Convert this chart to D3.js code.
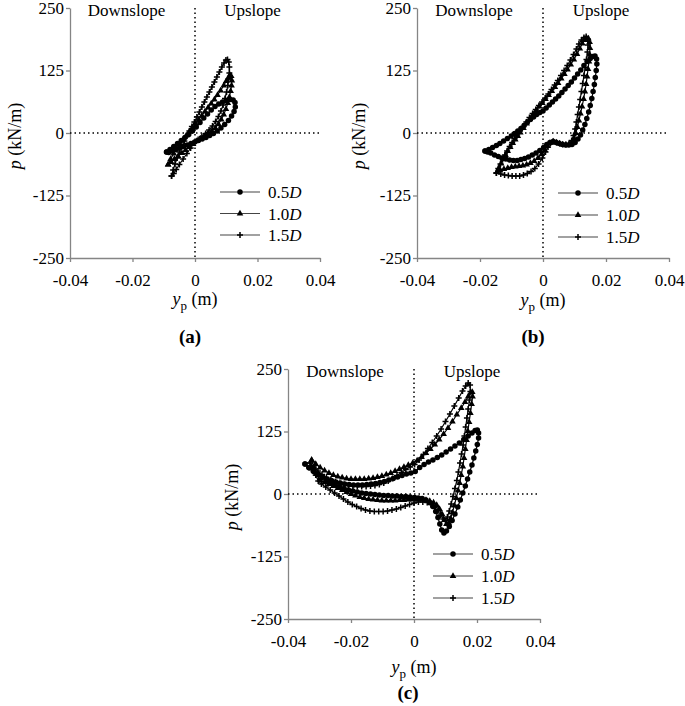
<!DOCTYPE html>
<html><head><meta charset="utf-8">
<script src="https://cdn.jsdelivr.net/npm/d3@7/dist/d3.min.js"></script>
<style>
body{margin:0;background:#fff}
svg{display:block}
text{font-family:"Liberation Serif","Times New Roman",serif;fill:#000}
</style>
</head><body>
<svg id="chart" width="685" height="706"></svg>
<script>
// ---- data ----
const xTicks = [-0.04, -0.02, 0, 0.02, 0.04];
const yTicks = [-250, -125, 0, 125, 250];
const seriesLabels = ["0.5", "1.0", "1.5"];
const panelLabels = ["(a)", "(b)", "(c)"];
const zoneLabels = ["Downslope", "Upslope"];

// panel (a): [y_p (m), p (kN/m)]
const a05 = [[-0.0091,-38],[-0.0080,-33],[-0.0068,-27],[-0.0056,-21],[-0.0044,-15],[-0.0032,-9],[-0.0020,-3],[-0.0008,4],[0.0004,12],[0.0016,21],[0.0028,30],[0.0040,38],[0.0052,46],[0.0064,53],[0.0076,58],[0.0088,62],[0.0100,65],[0.0112,67],[0.0122,66],[0.0128,61],[0.0129,52],[0.0125,43],[0.0117,34],[0.0107,25],[0.0095,17],[0.0083,10],[0.0071,4],[0.0059,-1],[0.0047,-5],[0.0035,-9],[0.0023,-12],[0.0011,-15],[-0.0001,-18],[-0.0013,-21],[-0.0025,-24],[-0.0037,-27],[-0.0049,-30],[-0.0061,-33],[-0.0073,-36],[-0.0084,-39],[-0.0091,-38]];
const a10 = [[-0.0086,-63],[-0.0078,-52],[-0.0068,-41],[-0.0058,-31],[-0.0048,-22],[-0.0038,-13],[-0.0028,-5],[-0.0018,3],[-0.0008,11],[0.0002,19],[0.0012,27],[0.0022,35],[0.0032,43],[0.0042,51],[0.0052,59],[0.0062,67],[0.0072,76],[0.0082,85],[0.0092,95],[0.0100,104],[0.0107,111],[0.0112,116],[0.0116,114],[0.0118,105],[0.0117,95],[0.0114,84],[0.0110,72],[0.0105,60],[0.0099,48],[0.0092,37],[0.0084,27],[0.0075,18],[0.0065,10],[0.0054,4],[0.0042,-1],[0.0030,-6],[0.0018,-11],[0.0006,-16],[-0.0006,-22],[-0.0018,-28],[-0.0030,-34],[-0.0042,-40],[-0.0054,-46],[-0.0066,-52],[-0.0076,-58],[-0.0086,-63]];
const a15 = [[-0.0075,-86],[-0.0070,-74],[-0.0064,-62],[-0.0057,-50],[-0.0050,-38],[-0.0042,-27],[-0.0034,-16],[-0.0026,-6],[-0.0018,4],[-0.0010,13],[-0.0002,22],[0.0006,32],[0.0014,42],[0.0022,52],[0.0030,62],[0.0038,72],[0.0046,82],[0.0054,92],[0.0062,102],[0.0070,112],[0.0078,122],[0.0086,132],[0.0093,140],[0.0099,146],[0.0104,147],[0.0108,142],[0.0110,132],[0.0110,120],[0.0108,108],[0.0105,95],[0.0101,82],[0.0096,69],[0.0090,56],[0.0083,44],[0.0075,33],[0.0066,23],[0.0056,14],[0.0045,6],[0.0034,-1],[0.0022,-7],[0.0010,-13],[-0.0002,-20],[-0.0014,-30],[-0.0026,-41],[-0.0038,-52],[-0.0050,-63],[-0.0060,-73],[-0.0068,-81],[-0.0075,-86]];

// panel (b)
const b05 = [[-0.0184,-36],[-0.0172,-33],[-0.0160,-29],[-0.0148,-25],[-0.0137,-21],[-0.0125,-16],[-0.0113,-11],[-0.0101,-6],[-0.0090,-1],[-0.0080,4],[-0.0070,9],[-0.0060,15],[-0.0050,21],[-0.0040,27],[-0.0030,32],[-0.0020,37],[-0.0010,41],[0.0000,44],[0.0010,50],[0.0020,56],[0.0030,62],[0.0040,68],[0.0050,74],[0.0060,81],[0.0070,88],[0.0080,95],[0.0090,102],[0.0100,110],[0.0110,118],[0.0120,126],[0.0130,135],[0.0140,143],[0.0150,149],[0.0158,153],[0.0165,154],[0.0170,148],[0.0171,138],[0.0169,125],[0.0166,111],[0.0163,97],[0.0159,83],[0.0155,69],[0.0150,55],[0.0145,42],[0.0139,29],[0.0133,17],[0.0126,6],[0.0119,-4],[0.0111,-12],[0.0102,-19],[0.0092,-23],[0.0082,-24],[0.0072,-24],[0.0062,-23],[0.0052,-21],[0.0042,-19],[0.0032,-17],[0.0022,-19],[0.0012,-23],[0.0002,-29],[-0.0010,-35],[-0.0022,-40],[-0.0034,-44],[-0.0046,-48],[-0.0058,-51],[-0.0070,-53],[-0.0082,-55],[-0.0094,-55],[-0.0106,-54],[-0.0118,-52],[-0.0130,-50],[-0.0142,-47],[-0.0154,-44],[-0.0166,-40],[-0.0176,-38],[-0.0184,-36]];
const b10 = [[-0.0146,-78],[-0.0140,-70],[-0.0133,-61],[-0.0126,-52],[-0.0119,-44],[-0.0112,-36],[-0.0104,-28],[-0.0096,-20],[-0.0088,-13],[-0.0080,-6],[-0.0072,1],[-0.0062,10],[-0.0052,19],[-0.0042,28],[-0.0032,37],[-0.0022,45],[-0.0012,53],[-0.0002,60],[0.0008,68],[0.0018,76],[0.0028,84],[0.0038,92],[0.0048,100],[0.0058,109],[0.0068,118],[0.0078,127],[0.0088,137],[0.0098,147],[0.0108,158],[0.0117,169],[0.0125,179],[0.0132,186],[0.0138,190],[0.0144,189],[0.0148,182],[0.0149,170],[0.0148,157],[0.0146,143],[0.0143,128],[0.0140,113],[0.0137,98],[0.0133,83],[0.0129,68],[0.0124,53],[0.0119,39],[0.0114,25],[0.0109,12],[0.0104,0],[0.0099,-11],[0.0092,-19],[0.0082,-23],[0.0072,-24],[0.0062,-23],[0.0052,-21],[0.0042,-19],[0.0032,-17],[0.0022,-20],[0.0014,-26],[0.0006,-34],[-0.0004,-42],[-0.0016,-50],[-0.0028,-56],[-0.0040,-60],[-0.0052,-63],[-0.0064,-65],[-0.0076,-66],[-0.0088,-67],[-0.0100,-68],[-0.0112,-70],[-0.0124,-72],[-0.0136,-75],[-0.0146,-78]];
const b15 = [[-0.0148,-80],[-0.0142,-71],[-0.0135,-62],[-0.0128,-53],[-0.0121,-44],[-0.0114,-36],[-0.0106,-27],[-0.0098,-19],[-0.0090,-11],[-0.0082,-4],[-0.0073,4],[-0.0063,13],[-0.0053,22],[-0.0043,31],[-0.0033,39],[-0.0023,47],[-0.0013,55],[-0.0003,62],[0.0007,70],[0.0017,78],[0.0027,87],[0.0037,96],[0.0047,105],[0.0057,115],[0.0067,125],[0.0077,135],[0.0087,146],[0.0097,157],[0.0106,168],[0.0114,178],[0.0122,186],[0.0130,191],[0.0137,193],[0.0142,188],[0.0143,176],[0.0141,162],[0.0138,147],[0.0134,131],[0.0130,115],[0.0126,99],[0.0122,83],[0.0118,67],[0.0114,52],[0.0110,37],[0.0106,22],[0.0102,8],[0.0097,-5],[0.0091,-15],[0.0083,-21],[0.0073,-23],[0.0063,-23],[0.0053,-21],[0.0043,-19],[0.0033,-17],[0.0024,-20],[0.0016,-28],[0.0008,-38],[-0.0002,-50],[-0.0014,-62],[-0.0026,-71],[-0.0038,-77],[-0.0050,-81],[-0.0062,-84],[-0.0074,-86],[-0.0086,-86],[-0.0098,-86],[-0.0110,-85],[-0.0122,-84],[-0.0134,-82],[-0.0148,-80]];

// panel (c)
const c05 = [[-0.0346,60],[-0.0332,52],[-0.0318,45],[-0.0304,39],[-0.0290,34],[-0.0276,30],[-0.0262,27],[-0.0248,24],[-0.0234,22],[-0.0220,20],[-0.0206,19],[-0.0192,18],[-0.0178,18],[-0.0164,18],[-0.0150,19],[-0.0136,20],[-0.0122,21],[-0.0108,23],[-0.0094,25],[-0.0080,28],[-0.0066,31],[-0.0052,34],[-0.0038,37],[-0.0024,40],[-0.0010,42],[0.0004,45],[0.0018,53],[0.0032,59],[0.0046,64],[0.0060,68],[0.0074,73],[0.0088,78],[0.0102,84],[0.0116,90],[0.0130,96],[0.0144,102],[0.0158,109],[0.0172,116],[0.0184,122],[0.0194,127],[0.0201,128],[0.0205,122],[0.0205,112],[0.0201,99],[0.0196,86],[0.0190,72],[0.0184,58],[0.0177,44],[0.0170,30],[0.0163,16],[0.0155,2],[0.0147,-12],[0.0139,-26],[0.0130,-40],[0.0121,-53],[0.0112,-65],[0.0103,-74],[0.0095,-78],[0.0088,-72],[0.0082,-60],[0.0076,-47],[0.0069,-35],[0.0060,-25],[0.0050,-17],[0.0038,-12],[0.0026,-9],[0.0014,-8],[0.0002,-7],[-0.0012,-6],[-0.0026,-5],[-0.0040,-5],[-0.0054,-4],[-0.0068,-4],[-0.0082,-3],[-0.0096,-3],[-0.0110,-2],[-0.0124,-1],[-0.0138,0],[-0.0152,1],[-0.0166,2],[-0.0180,4],[-0.0194,6],[-0.0208,8],[-0.0222,11],[-0.0236,14],[-0.0250,18],[-0.0264,22],[-0.0278,27],[-0.0292,33],[-0.0306,39],[-0.0320,46],[-0.0334,53],[-0.0346,60]];
const c10 = [[-0.0325,68],[-0.0312,60],[-0.0298,53],[-0.0284,47],[-0.0270,42],[-0.0256,38],[-0.0242,35],[-0.0228,33],[-0.0214,31],[-0.0200,30],[-0.0186,30],[-0.0172,30],[-0.0158,30],[-0.0144,31],[-0.0130,32],[-0.0116,34],[-0.0102,36],[-0.0088,39],[-0.0074,42],[-0.0060,46],[-0.0046,50],[-0.0032,54],[-0.0018,58],[-0.0004,62],[0.0010,67],[0.0024,74],[0.0038,82],[0.0052,90],[0.0066,99],[0.0080,109],[0.0094,120],[0.0108,132],[0.0122,145],[0.0136,159],[0.0150,172],[0.0162,184],[0.0172,195],[0.0180,203],[0.0185,204],[0.0186,195],[0.0183,180],[0.0179,162],[0.0175,144],[0.0171,126],[0.0167,108],[0.0163,90],[0.0159,72],[0.0155,55],[0.0150,38],[0.0145,22],[0.0140,7],[0.0134,-8],[0.0128,-23],[0.0122,-37],[0.0116,-49],[0.0110,-58],[0.0103,-60],[0.0096,-52],[0.0089,-40],[0.0081,-30],[0.0072,-22],[0.0062,-17],[0.0050,-14],[0.0038,-12],[0.0024,-11],[0.0010,-11],[-0.0004,-11],[-0.0018,-11],[-0.0032,-12],[-0.0046,-12],[-0.0060,-13],[-0.0074,-13],[-0.0088,-13],[-0.0102,-13],[-0.0116,-12],[-0.0130,-11],[-0.0144,-10],[-0.0158,-8],[-0.0172,-6],[-0.0186,-3],[-0.0200,0],[-0.0214,4],[-0.0228,8],[-0.0242,12],[-0.0256,16],[-0.0270,20],[-0.0284,24],[-0.0298,28],[-0.0310,40],[-0.0318,54],[-0.0325,68]];
const c15 = [[-0.0330,62],[-0.0318,54],[-0.0305,46],[-0.0292,39],[-0.0278,33],[-0.0264,28],[-0.0250,24],[-0.0236,21],[-0.0222,19],[-0.0208,17],[-0.0194,16],[-0.0180,15],[-0.0166,15],[-0.0152,15],[-0.0138,16],[-0.0124,17],[-0.0110,19],[-0.0096,22],[-0.0082,26],[-0.0068,31],[-0.0054,37],[-0.0040,43],[-0.0026,49],[-0.0012,54],[0.0002,59],[0.0016,68],[0.0030,79],[0.0044,91],[0.0058,103],[0.0072,116],[0.0086,130],[0.0100,145],[0.0114,160],[0.0128,176],[0.0142,192],[0.0154,206],[0.0164,216],[0.0172,222],[0.0178,218],[0.0179,205],[0.0176,188],[0.0172,170],[0.0168,152],[0.0164,134],[0.0160,116],[0.0156,98],[0.0151,80],[0.0146,62],[0.0141,44],[0.0136,27],[0.0130,11],[0.0124,-5],[0.0118,-20],[0.0112,-34],[0.0106,-46],[0.0100,-53],[0.0093,-50],[0.0085,-42],[0.0076,-34],[0.0066,-27],[0.0054,-21],[0.0042,-17],[0.0028,-16],[0.0014,-16],[0.0000,-18],[-0.0014,-21],[-0.0028,-24],[-0.0042,-27],[-0.0056,-30],[-0.0070,-32],[-0.0084,-34],[-0.0098,-35],[-0.0112,-35],[-0.0126,-35],[-0.0140,-34],[-0.0154,-32],[-0.0168,-29],[-0.0182,-25],[-0.0196,-21],[-0.0210,-16],[-0.0224,-10],[-0.0238,-4],[-0.0252,2],[-0.0266,8],[-0.0280,14],[-0.0294,20],[-0.0304,26],[-0.0312,38],[-0.0320,50],[-0.0330,62]];

// ---- layout ----
const panels = [
  {label: panelLabels[0], series: [a05, a10, a15], left: 70, right: 320, top: 8, bottom: 258,
   yTitleX: 15, labelX: 190, labelY: 343, legX: 220, legY: [192, 213.5, 235], xTitleDy: 47},
  {label: panelLabels[1], series: [b05, b10, b15], left: 417, right: 669, top: 8, bottom: 258,
   yTitleX: 359, labelX: 533, labelY: 343, legX: 558, legY: [193, 215, 237], xTitleDy: 48},
  {label: panelLabels[2], series: [c05, c10, c15], left: 288, right: 540, top: 369, bottom: 619,
   yTitleX: 232, labelX: 408, labelY: 699, legX: 433, legY: [554, 576, 598], xTitleDy: 54}
];

const svg = d3.select("#chart");
const FONT = '"Liberation Serif","Times New Roman",serif';
const AXIS_COLOR = "#858585";
const fmt = d => d === 0 ? "0" : String(d);

const markerPath = [
  d3.symbol().type(d3.symbolCircle).size(24)(),
  d3.symbol().type(d3.symbolTriangle).size(19)(),
  "M-3,0H3M0,-3V3"
];
function drawMarker(g, i, x, y) {
  const p = g.append("path").attr("d", markerPath[i]).attr("transform", `translate(${x},${y})`);
  if (i === 2) p.attr("fill", "none").attr("stroke", "#000").attr("stroke-width", 1.5);
  else p.attr("fill", "#000");
}

panels.forEach(pn => {
  const x = d3.scaleLinear().domain([-0.04, 0.04]).range([pn.left, pn.right]);
  const y = d3.scaleLinear().domain([-250, 250]).range([pn.bottom, pn.top]);
  const g = svg.append("g");

  // axes
  const ay = g.append("g").attr("transform", `translate(${pn.left},0)`)
    .call(d3.axisLeft(y).tickValues(yTicks).tickFormat(fmt).tickSize(4).tickSizeOuter(0).tickPadding(2));
  const ax = g.append("g").attr("transform", `translate(0,${pn.bottom})`)
    .call(d3.axisBottom(x).tickValues(xTicks).tickFormat(fmt).tickSize(4).tickSizeOuter(0).tickPadding(12));
  [ax, ay].forEach(a => {
    a.attr("font-family", FONT).attr("font-size", 17);
    a.select(".domain").attr("stroke", AXIS_COLOR).attr("stroke-width", 1.3);
    a.selectAll(".tick line").attr("stroke", AXIS_COLOR).attr("stroke-width", 1.3);
    a.selectAll(".tick text").attr("fill", "#000");
  });

  // zero reference lines
  g.append("line").attr("x1", x(0)).attr("x2", x(0)).attr("y1", y(250)).attr("y2", y(-250))
    .attr("stroke", "#000").attr("stroke-width", 1.5).attr("stroke-dasharray", "1.5,3");
  g.append("line").attr("x1", x(-0.04)).attr("x2", x(0.04)).attr("y1", y(0)).attr("y2", y(0))
    .attr("stroke", "#000").attr("stroke-width", 1.5).attr("stroke-dasharray", "1.5,3");

  // zone labels
  g.append("text").attr("x", (x(-0.04) + x(0)) / 2 - 6).attr("y", pn.top + 8)
    .attr("text-anchor", "middle").attr("font-size", 17).text(zoneLabels[0]);
  g.append("text").attr("x", (x(0) + x(0.04)) / 2 - 5).attr("y", pn.top + 8)
    .attr("text-anchor", "middle").attr("font-size", 17).text(zoneLabels[1]);

  // series
  const line = d3.line().x(d => x(d[0])).y(d => y(d[1]));
  pn.series.forEach((s, i) => {
    g.append("path").datum(s).attr("d", line).attr("fill", "none")
      .attr("stroke", "#000").attr("stroke-width", 1.2);
    const mg = g.append("g");
    s.forEach(d => drawMarker(mg, i, x(d[0]), y(d[1])));
  });

  // legend
  seriesLabels.forEach((lab, i) => {
    const ly = pn.legY[i];
    g.append("line").attr("x1", pn.legX).attr("x2", pn.legX + 40).attr("y1", ly).attr("y2", ly)
      .attr("stroke", "#444").attr("stroke-width", 1.2);
    drawMarker(g, i, pn.legX + 20, ly);
    const t = g.append("text").attr("x", pn.legX + 48).attr("y", ly + 6).attr("font-size", 17);
    t.append("tspan").text(lab);
    t.append("tspan").attr("font-style", "italic").text("D");
  });

  // axis titles
  const xt = g.append("text").attr("x", x(0)).attr("y", pn.bottom + pn.xTitleDy)
    .attr("text-anchor", "middle").attr("font-size", 18);
  xt.append("tspan").attr("font-style", "italic").text("y");
  xt.append("tspan").attr("font-size", 13).attr("dy", 5).text("p");
  xt.append("tspan").attr("dy", -5).text(" (m)");

  const yt = g.append("text")
    .attr("transform", `translate(${pn.yTitleX + 6},${(pn.top + pn.bottom) / 2 + 3}) rotate(-90)`)
    .attr("text-anchor", "middle").attr("font-size", 18);
  yt.append("tspan").attr("font-style", "italic").text("p");
  yt.append("tspan").text(" (kN/m)");

  // panel label
  g.append("text").attr("x", pn.labelX).attr("y", pn.labelY).attr("text-anchor", "middle")
    .attr("font-size", 19).attr("font-weight", "bold").text(pn.label);
});
</script>
</body></html>
